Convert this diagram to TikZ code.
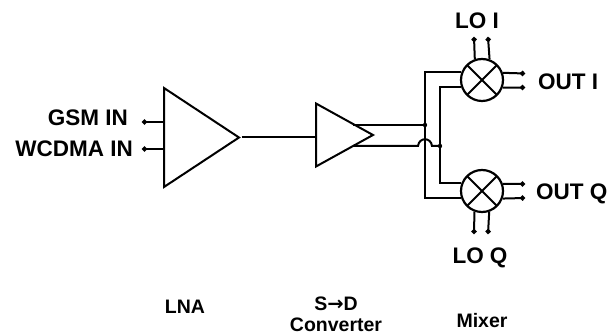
\documentclass[tikz,border=0pt]{standalone}
\usepackage{fontspec}
\setmainfont{Liberation Sans}
\newfontfamily\arrowfont{DejaVu Sans}
\usetikzlibrary{arrows.meta,calc,positioning,shapes.geometric}
\tikzset{amp/.style={isosceles triangle,isosceles triangle stretches,draw,line width=2pt,inner sep=0pt},mixerbox/.style={circle,draw,line width=2.2pt,minimum size=42pt,inner sep=0pt,path picture={\draw[line width=2pt](path picture bounding box.north west)--(path picture bounding box.south east)(path picture bounding box.north east)--(path picture bounding box.south west);}},wire/.style={line width=2pt},port/.style={wire,-{Circle[length=5pt]}},label/.style={font=\fontsize{22.5}{23}\selectfont\bfseries,inner sep=0pt},caption/.style={font=\fontsize{19.5}{21}\selectfont\bfseries,inner sep=0pt,align=center}}
\begin{document}
\begin{tikzpicture}[x=1pt,y=-1pt]
      \useasboundingbox (0,0) rectangle (608,336);
      \node[amp,minimum width=99pt,minimum height=75pt,anchor=lower side](lna) at (163,137.5){};
      \node[amp,minimum width=63pt,minimum height=57pt,anchor=lower side](sd) at (315,135){};
      \node[mixerbox](mixi) at (482,80){};
      \node[mixerbox](mixq) at (482,191){};
      % inputs
      \coordinate (gsm) at (142,122);\coordinate (wcdma) at (142,149);
      \draw[port](lna.lower side |- gsm)--(gsm);\draw[port](lna.lower side |- wcdma)--(wcdma);
      \node[label,anchor=east](gsmin) at (128,118){GSM IN};
      \node[label,anchor=east](wcdmain) at (133,149){WCDMA IN};
      \draw[wire](lna.apex)--(sd.lower side |- lna.apex);
      % differential pair
      \coordinate (tapp) at (425,125);\coordinate (tapn) at (440,146);
      \draw[wire](353,125)--(tapp);
      \draw[wire](353,146)--(418,146) .. controls (419,137) and (431,137) .. (432,146)--(tapn);
      \fill (tapp) circle (2.2pt) (tapn) circle (2.2pt);
      \draw[wire](mixi.160.5)--(mixi.160.5 -| tapp)--(mixq.199.5 -| tapp)--(mixq.199.5);
      \draw[wire](mixi.199.5)--(mixi.199.5 -| tapn)--(mixq.160.5 -| tapn)--(mixq.160.5);
      % mixer ports
      \coordinate (loia) at (474,37);\coordinate (loib) at (488,37);
      \coordinate (loqa) at (474,234);\coordinate (loqb) at (488,234);
      \coordinate (outia) at (525,73.5);\coordinate (outib) at (525,87.5);
      \coordinate (outqa) at (525,184);\coordinate (outqb) at (525,198);
      \draw[port](mixi.109.5)--(loia);\draw[port](mixi.70.5)--(loib);
      \draw[port](mixq.250.5)--(loqa);\draw[port](mixq.289.5)--(loqb);
      \draw[port](mixi.19.5)--(outia);\draw[port](mixi.340.5)--(outib);
      \draw[port](mixq.19.5)--(outqa);\draw[port](mixq.340.5)--(outqb);
      \node[label] (loi) at (477,21){LO I};
      \node[label] (loq) at (480,258){LO Q};
      \node[label,anchor=west] (outi) at (538,82){OUT I};
      \node[label,anchor=west] (outq) at (536,194){OUT Q};
      % captions
      \node[caption] (lnacap) at (185,307){LNA};
      \node[caption] (sdcap) at (336,314){S{\arrowfont\bfseries→}D\\Converter};
      \node[caption] (mixcap) at (482,321){Mixer};
    \end{tikzpicture}
\end{document}
